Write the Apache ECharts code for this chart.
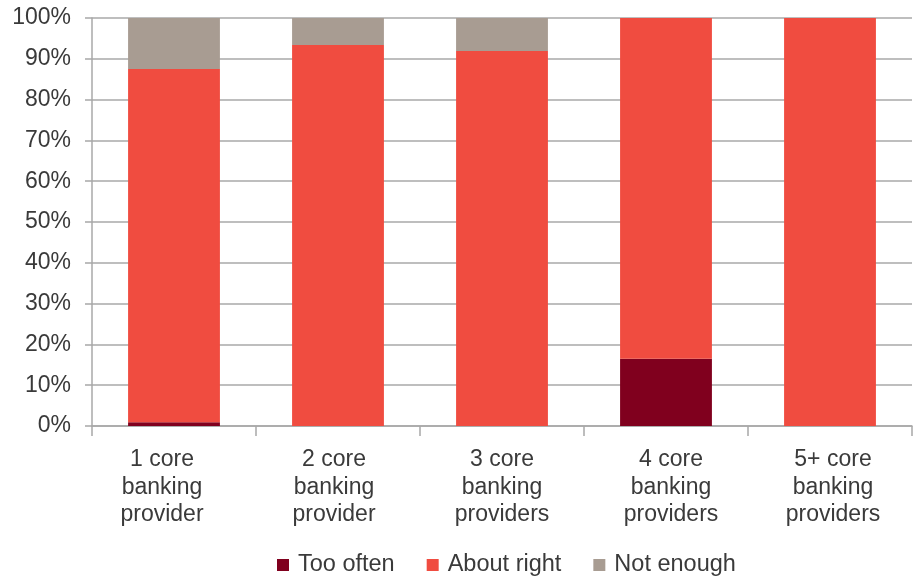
<!DOCTYPE html>
<html>
<head>
<meta charset="utf-8">
<script src="https://cdn.jsdelivr.net/npm/echarts@6/dist/echarts.min.js"></script>
<style>
  html, body { margin: 0; padding: 0; background: #fff; }
  #chart { width: 918px; height: 577px; }
</style>
</head>
<body>
<div id="chart"></div>
<script>
// Categories: number of core banking providers
const categories = [
  '1 core\nbanking\nprovider',
  '2 core\nbanking\nprovider',
  '3 core\nbanking\nproviders',
  '4 core\nbanking\nproviders',
  '5+ core\nbanking\nproviders'
];

// Share of respondents (%) per answer
const tooOften   = [0.9, 0,    0,    16.5, 0];
const aboutRight = [86.6, 93.4, 91.9, 83.5, 100];
const notEnough  = [12.5, 6.6,  8.1,  0,    0];

const seriesNames = ['Too often', 'About right', 'Not enough'];
const seriesColors = ['#80001e', '#f04c40', '#a89c92'];

// Horizontal nudge (px) of each category label around its band centre
const labelNudge = [-12, -4, 0, 5, 3];

const textColor = '#3a3a3a';
const gridColor = '#a8a8a8';
const fontFamily = '"Liberation Sans", Arial, Helvetica, sans-serif';

const chart = echarts.init(document.getElementById('chart'));

function bar(name, data, color) {
  return {
    name: name,
    type: 'bar',
    stack: 'total',
    data: data,
    barWidth: '56%',
    itemStyle: { color: color },
    emphasis: { disabled: true }
  };
}

const categoryItems = categories.map(function (c, i) {
  const n = labelNudge[i];
  return {
    value: c,
    textStyle: {
      padding: n < 0 ? [0, -2 * n, 0, 0] : [0, 0, 0, 2 * n]
    }
  };
});

chart.setOption({
  animation: false,
  textStyle: { fontFamily: fontFamily },
  grid: { left: 92, right: 6, top: 18, bottom: 151 },
  legend: {
    left: 277,
    top: 553,
    padding: 0,
    itemWidth: 12,
    itemHeight: 12,
    itemGap: 32,
    icon: 'rect',
    textStyle: {
      color: textColor,
      fontSize: 23.5,
      lineHeight: 24,
      fontFamily: fontFamily,
      padding: [0, 0, 0, 4]
    },
    data: seriesNames
  },
  xAxis: {
    type: 'category',
    data: categoryItems,
    axisLine: { show: true, lineStyle: { color: gridColor, width: 1.5 } },
    axisTick: { show: true, length: 10, alignWithLabel: false, lineStyle: { color: gridColor, width: 1.5 } },
    axisLabel: {
      color: textColor,
      fontSize: 23,
      lineHeight: 27.5,
      margin: 20,
      interval: 0,
      fontFamily: fontFamily
    }
  },
  yAxis: {
    type: 'value',
    min: 0,
    max: 100,
    interval: 10,
    axisLine: { show: true, lineStyle: { color: gridColor, width: 1.5 } },
    axisTick: { show: true, length: 7, lineStyle: { color: gridColor, width: 1.5 } },
    splitLine: { show: true, lineStyle: { color: gridColor, width: 1.5 } },
    axisLabel: {
      color: textColor,
      fontSize: 23,
      margin: 21,
      formatter: '{value}%',
      fontFamily: fontFamily
    }
  },
  series: [
    bar(seriesNames[0], tooOften, seriesColors[0]),
    bar(seriesNames[1], aboutRight, seriesColors[1]),
    bar(seriesNames[2], notEnough, seriesColors[2])
  ]
});
</script>
</body>
</html>
